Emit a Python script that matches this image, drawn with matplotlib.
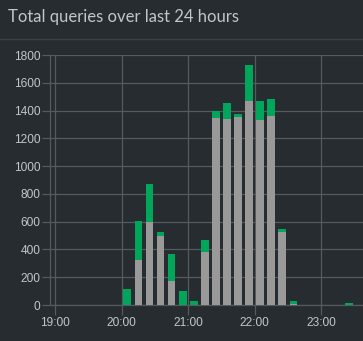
import matplotlib
matplotlib.use("Agg")
import matplotlib.pyplot as plt
from matplotlib.lines import Line2D

# Data (10-minute bins, centred on hh:m5)
times = ["19:05", "19:15", "19:25", "19:35", "19:45", "19:55",
         "20:05", "20:15", "20:25", "20:35", "20:45", "20:55",
         "21:05", "21:15", "21:25", "21:35", "21:45", "21:55",
         "22:05", "22:15", "22:25", "22:35", "22:45", "22:55",
         "23:05", "23:15", "23:25"]
gray_vals = [0, 0, 0, 0, 0, 0,
             0, 325, 600, 497, 170, 0,
             0, 379, 1349, 1339, 1356, 1469,
             1334, 1363, 528, 10, 0, 0,
             0, 0, 0]
green_vals = [0, 1, 3, 0, 2, 0,
              115, 280, 270, 31, 197, 101,
              29, 87, 48, 118, 19, 259,
              135, 120, 22, 19, 3, 0,
              2, 0, 14]
xtick_labels = ["19:00", "20:00", "21:00", "22:00", "23:00"]
ytick_vals = [0, 200, 400, 600, 800, 1000, 1200, 1400, 1600, 1800]


def to_hours(s):
    h, m = s.split(":")
    return int(h) + int(m) / 60.0


x = [to_hours(t) for t in times]
xticks = [to_hours(t) for t in xtick_labels]

BG = "#272c30"
GRID = "#565a5e"
TEXT = "#c2c6ca"
GRAY = "#999999"
GREEN = "#00a65a"

fig = plt.figure(figsize=(3.63, 3.41), dpi=100, facecolor=BG)

# Title and separator
fig.text(8 / 363, 1 - 17 / 341, "Total queries over last 24 hours",
         fontsize=12, color=TEXT, family=["Lato", "DejaVu Sans"],
         ha="left", va="center")
fig.add_artist(Line2D([0, 1], [1 - 38.5 / 341, 1 - 38.5 / 341],
                      color="#3b4045", lw=1, transform=fig.transFigure))

ax = fig.add_axes([50 / 363, 1 - 305 / 341, 1 - 50 / 363, 250 / 341])
ax.set_facecolor(BG)

w = 0.7 * 10 / 60
ax.bar(x, gray_vals, width=w, color=GRAY, zorder=3, linewidth=0)
ax.bar(x, green_vals, width=w, bottom=gray_vals, color=GREEN, zorder=3,
       linewidth=0)

ax.set_xlim(18.92, 23.63)
ax.set_ylim(0, 1800)
ax.set_xticks(xticks)
ax.set_xticklabels(xtick_labels)
ax.set_yticks(ytick_vals)
ax.set_yticklabels([str(v) for v in ytick_vals])

ax.grid(True, color=GRID, lw=0.9, zorder=0)
for side in ["top", "right"]:
    ax.spines[side].set_visible(False)
for side in ["left", "bottom"]:
    ax.spines[side].set_color(GRID)
    ax.spines[side].set_linewidth(0.9)

ax.tick_params(axis="y", colors=GRID, length=6, width=0.9, labelcolor=TEXT,
               labelsize=8.6, pad=1)
ax.tick_params(axis="x", colors=GRID, length=7, width=0.9, labelcolor=TEXT,
               labelsize=8.6, pad=2)
for lab in ax.get_xticklabels() + ax.get_yticklabels():
    lab.set_family(["Liberation Sans", "DejaVu Sans"])

fig.savefig("out.png", dpi=100, facecolor=BG)
